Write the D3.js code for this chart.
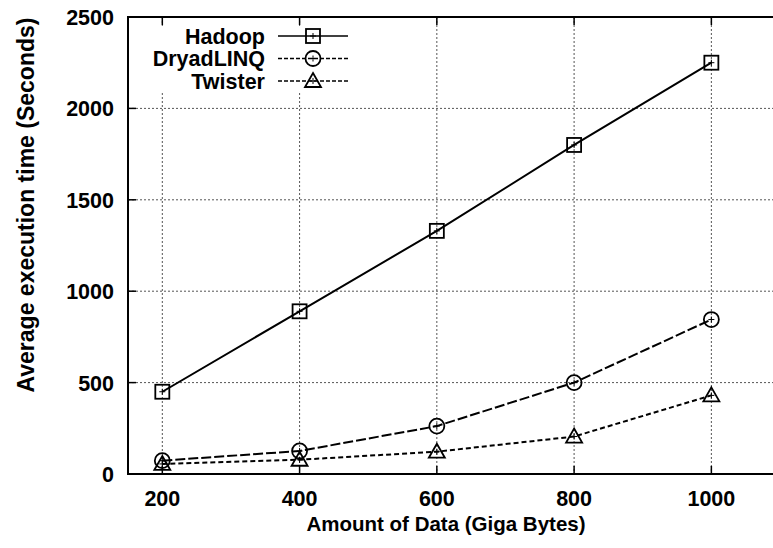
<!DOCTYPE html>
<html>
<head>
<meta charset="utf-8">
<script src="https://cdn.jsdelivr.net/npm/d3@7"></script>
<style>
  body { margin: 0; background: #fff; }
  text { font-family: "Liberation Sans", Arial, sans-serif; font-weight: bold; fill: #000; }
</style>
</head>
<body>
<svg id="chart"></svg>
<script>
const dataSizes = [200, 400, 600, 800, 1000];
const hadoop = [450, 890, 1330, 1800, 2250];
const dryadLinq = [73, 126, 262, 500, 845];
const twister = [55, 78, 122, 205, 430];
const xTicks = [200, 400, 600, 800, 1000];
const yTicks = [0, 500, 1000, 1500, 2000, 2500];

const drawChart = (svgId) => {
    const width = 773, height = 548;
    const left = 128, right = 780, top = 17, bottom = 474;

    const svg = d3.select(svgId)
                  .attr("width", width)
                  .attr("height", height);

    const x = d3.scaleLinear().domain([150, 1100]).range([left, right]);
    const y = d3.scaleLinear().domain([0, 2500]).range([bottom, top]);

    // grid
    svg.selectAll("line.vgrid")
       .data(xTicks)
       .enter()
       .append("line")
       .attr("x1", d => x(d)).attr("x2", d => x(d))
       .attr("y1", top).attr("y2", bottom)
       .attr("stroke", "#555")
       .attr("stroke-width", 1)
       .attr("stroke-dasharray", "2,2");

    svg.selectAll("line.hgrid")
       .data(yTicks.slice(1, -1))
       .enter()
       .append("line")
       .attr("x1", left).attr("x2", right)
       .attr("y1", d => y(d)).attr("y2", d => y(d))
       .attr("stroke", "#555")
       .attr("stroke-width", 1)
       .attr("stroke-dasharray", "2,2");

    // legend background covers grid
    svg.append("rect")
       .attr("x", 140).attr("y", 26)
       .attr("width", 222).attr("height", 66)
       .attr("fill", "#fff");

    // tick marks (inward)
    xTicks.forEach(t => {
        svg.append("line").attr("x1", x(t)).attr("x2", x(t)).attr("y1", bottom).attr("y2", bottom - 8)
           .attr("stroke", "#000").attr("stroke-width", 1.5);
        svg.append("line").attr("x1", x(t)).attr("x2", x(t)).attr("y1", top).attr("y2", top + 8)
           .attr("stroke", "#000").attr("stroke-width", 1.5);
    });
    yTicks.forEach(t => {
        svg.append("line").attr("x1", left).attr("x2", left + 8).attr("y1", y(t)).attr("y2", y(t))
           .attr("stroke", "#000").attr("stroke-width", 1.5);
    });

    // frame
    svg.append("rect")
       .attr("x", left).attr("y", top)
       .attr("width", right - left).attr("height", bottom - top)
       .attr("fill", "none")
       .attr("stroke", "#000")
       .attr("stroke-width", 2);

    // tick labels
    svg.selectAll("text.xt")
       .data(xTicks)
       .enter()
       .append("text")
       .attr("x", d => x(d))
       .attr("y", bottom + 32)
       .attr("text-anchor", "middle")
       .attr("font-size", 21.5)
       .text(d => d);

    svg.selectAll("text.yt")
       .data(yTicks)
       .enter()
       .append("text")
       .attr("x", left - 14)
       .attr("y", d => y(d) + 8)
       .attr("text-anchor", "end")
       .attr("font-size", 21.5)
       .text(d => d);

    // axis titles
    svg.append("text")
       .attr("x", 446).attr("y", 531)
       .attr("text-anchor", "middle")
       .attr("font-size", 20.5)
       .text("Amount of Data (Giga Bytes)");

    svg.append("text")
       .attr("transform", "translate(34, 205) rotate(-90)")
       .attr("text-anchor", "middle")
       .attr("font-size", 23)
       .text("Average execution time (Seconds)");

    const series = [
        { name: "Hadoop", values: hadoop, dash: null, marker: "square" },
        { name: "DryadLINQ", values: dryadLinq, dash: "10,3", marker: "circle" },
        { name: "Twister", values: twister, dash: "5,3", marker: "triangle" }
    ];

    const line = d3.line().x((d, i) => x(dataSizes[i])).y(d => y(d));

    const drawMarker = (g, type, cx, cy) => {
        if (type === "square") {
            g.append("rect").attr("x", cx - 7).attr("y", cy - 7).attr("width", 14).attr("height", 14)
             .attr("fill", "none").attr("stroke", "#000").attr("stroke-width", 1.8);
        } else if (type === "circle") {
            g.append("circle").attr("cx", cx).attr("cy", cy).attr("r", 7.5)
             .attr("fill", "none").attr("stroke", "#000").attr("stroke-width", 1.8);
        } else {
            g.append("path")
             .attr("d", `M${cx},${cy - 8}L${cx + 8},${cy + 6}L${cx - 8},${cy + 6}Z`)
             .attr("fill", "none").attr("stroke", "#000").attr("stroke-width", 1.8);
        }
        // small crosshair inside marker
        g.append("path")
         .attr("d", `M${cx - 3},${cy}H${cx + 3}M${cx},${cy - 3}V${cy + 3}`)
         .attr("stroke", "#000").attr("stroke-width", 1);
    };

    const legendY = [36, 58.5, 81];

    series.forEach((s, si) => {
        svg.append("path")
           .datum(s.values)
           .attr("d", line)
           .attr("fill", "none")
           .attr("stroke", "#000")
           .attr("stroke-width", 2)
           .attr("stroke-dasharray", s.dash);

        const g = svg.append("g");
        s.values.forEach((v, i) => drawMarker(g, s.marker, x(dataSizes[i]), y(v)));

        // legend
        const ly = legendY[si];
        svg.append("text")
           .attr("x", 265).attr("y", ly + 7.5)
           .attr("text-anchor", "end")
           .attr("font-size", 21.5)
           .text(s.name);
        svg.append("line")
           .attr("x1", 278).attr("x2", 348)
           .attr("y1", ly).attr("y2", ly)
           .attr("stroke", "#000")
           .attr("stroke-width", 1.5)
           .attr("stroke-dasharray", s.dash ? "4,2" : null);
        drawMarker(svg.append("g"), s.marker, 313, ly);
    });
};

drawChart("#chart");
</script>
</body>
</html>
